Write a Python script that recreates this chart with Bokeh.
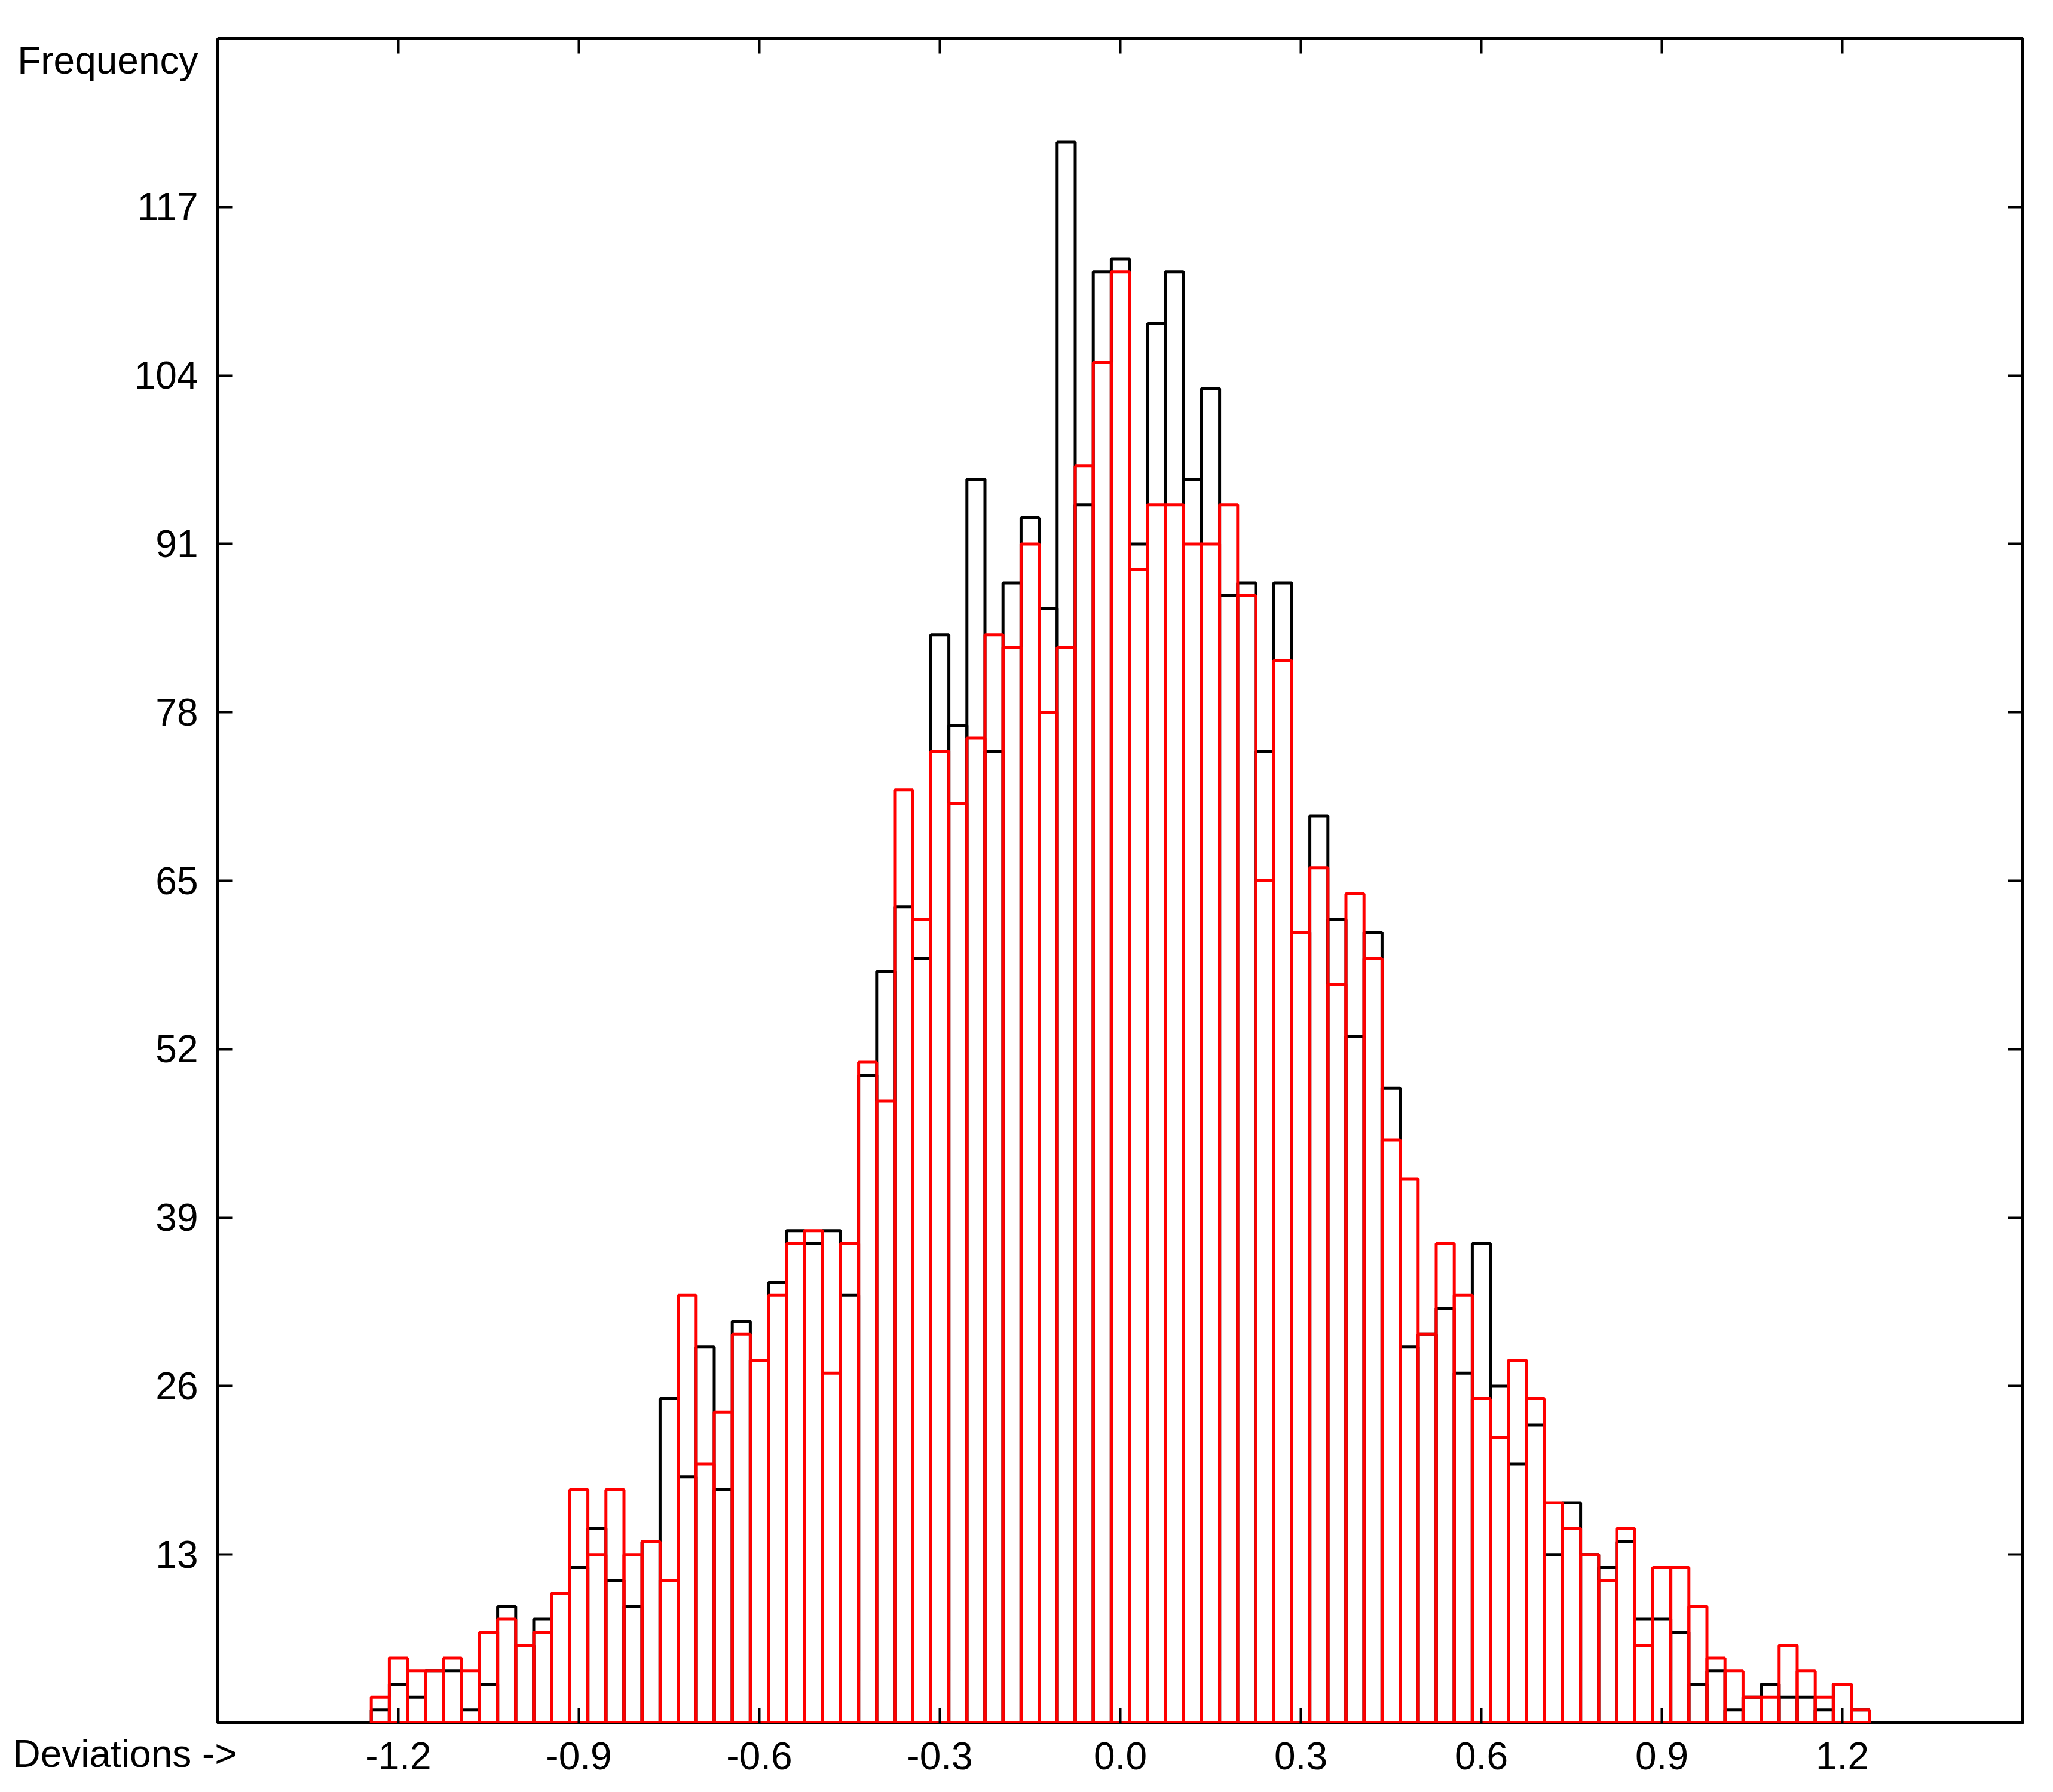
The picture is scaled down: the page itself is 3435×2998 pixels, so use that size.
from bokeh.plotting import figure
from bokeh.models import (FixedTicker, PrintfTickFormatter, LinearAxis,
                          CustomJSTickFormatter, Range1d, ColumnDataSource)
from bokeh.embed import file_html
from bokeh.resources import INLINE

# ---- data (83 bins of width 0.03, centred on multiples of 0.03 from -1.23 to 1.23)
bin_start = -1.245
bin_width = 0.03

red_counts = [2, 5, 4, 4, 5, 4, 7, 8, 6, 7, 10, 18, 13, 18, 13, 14, 11, 33, 20, 24,
              30, 28, 33, 37, 38, 27, 37, 51, 48, 72, 62, 75, 71, 76, 84, 83, 91, 78,
              83, 97, 105, 112, 89, 94, 94, 91, 91, 94, 87, 65, 82, 61, 66, 57, 64, 59,
              45, 42, 30, 37, 33, 25, 22, 28, 25, 17, 15, 13, 11, 15, 6, 12, 12, 9, 5,
              4, 2, 2, 6, 4, 2, 3, 1]

black_counts = [1, 3, 2, 4, 4, 1, 3, 9, 6, 8, 10, 12, 15, 11, 9, 14, 25, 19, 29, 18,
                31, 28, 34, 38, 37, 38, 33, 50, 58, 63, 59, 84, 77, 96, 75, 88, 93, 86,
                122, 94, 112, 113, 91, 108, 112, 96, 103, 87, 88, 75, 88, 61, 70, 62, 53,
                61, 49, 29, 30, 32, 27, 37, 26, 20, 23, 13, 17, 13, 12, 14, 8, 8, 7, 3, 4,
                1, 2, 3, 2, 2, 1, 3, 1]

x_ticks = [-1.2, -0.9, -0.6, -0.3, 0.0, 0.3, 0.6, 0.9, 1.2]
y_ticks = [13, 26, 39, 52, 65, 78, 91, 104, 117]

y_title = "Frequency"
x_title = "Deviations ->"
y_title_pos = 128.3     # level beside which the y title sits
x_title_pos = -1.4954   # anchor of the x title (text padded so it ends near the frame corner)

n_bins = len(red_counts)
lefts = [round(bin_start + bin_width * i, 4) for i in range(n_bins)]
rights = [round(l + bin_width, 4) for l in lefts]

src_black = ColumnDataSource(dict(left=lefts, right=rights, top=black_counts))
src_red = ColumnDataSource(dict(left=lefts, right=rights, top=red_counts))

FONT = "Liberation Sans"
FSIZE = "64px"
LW = 5

p = figure(width=3427, height=2990,
           x_range=Range1d(-1.5, 1.5), y_range=Range1d(0, 130),
           output_backend="svg", toolbar_location=None,
           min_border_left=364, min_border_right=43,
           min_border_top=64, min_border_bottom=108)
p.grid.visible = False
p.background_fill_color = "white"
p.border_fill_color = "white"
p.outline_line_color = "black"
p.outline_line_width = 5

p.quad(left="left", right="right", bottom=0, top="top", source=src_black,
       fill_color=None, line_color="black", line_width=LW)
p.quad(left="left", right="right", bottom=0, top="top", source=src_red,
       fill_color=None, line_color="#ff0000", line_width=LW)

empty = CustomJSTickFormatter(code="return ''")


def tick_only(axis, ticks):
    axis.ticker = FixedTicker(ticks=ticks)
    axis.formatter = empty
    axis.major_tick_in = 25
    axis.major_tick_out = 0
    axis.major_tick_line_width = 4
    axis.major_tick_line_color = "black"
    axis.minor_tick_line_color = None
    axis.axis_line_color = None
    axis.major_label_standoff = 0
    axis.major_label_text_font_size = "1px"


def label_style(axis):
    axis.major_label_text_font = FONT
    axis.major_label_text_font_size = FSIZE
    axis.major_label_text_color = "black"


# bottom axis: inward ticks + numeric labels
xa = p.xaxis[0]
xa.ticker = FixedTicker(ticks=x_ticks)
xa.formatter = PrintfTickFormatter(format="%.1f")
xa.major_tick_in = 25
xa.major_tick_out = 0
xa.minor_tick_line_color = None
xa.axis_line_color = None
xa.major_tick_line_width = 4
xa.major_label_standoff = 32
label_style(xa)

# second bottom axis drawn on the same row as the numbers, carrying the x title
x_title_axis = LinearAxis(ticker=FixedTicker(ticks=[x_title_pos]),
                          major_label_overrides={x_title_pos: x_title + "\u00a0" * 18},
                          major_tick_line_color=None, minor_tick_line_color=None,
                          axis_line_color=None, major_label_standoff=-71)
label_style(x_title_axis)
p.add_layout(x_title_axis, "below")

# left: inward ticks only (nearest the frame), then labels incl. y title
tick_only(p.yaxis[0], y_ticks)
y_label_axis = LinearAxis(ticker=FixedTicker(ticks=y_ticks + [y_title_pos]),
                          major_label_overrides={y_title_pos: y_title},
                          major_tick_line_color=None, minor_tick_line_color=None,
                          axis_line_color=None, major_label_standoff=27)
label_style(y_label_axis)
p.add_layout(y_label_axis, "left")

# top and right: inward ticks only
top_axis = LinearAxis()
tick_only(top_axis, x_ticks)
p.add_layout(top_axis, "above")
right_axis = LinearAxis()
tick_only(right_axis, y_ticks)
p.add_layout(right_axis, "right")

open("out.html", "w").write(file_html(p, INLINE))
